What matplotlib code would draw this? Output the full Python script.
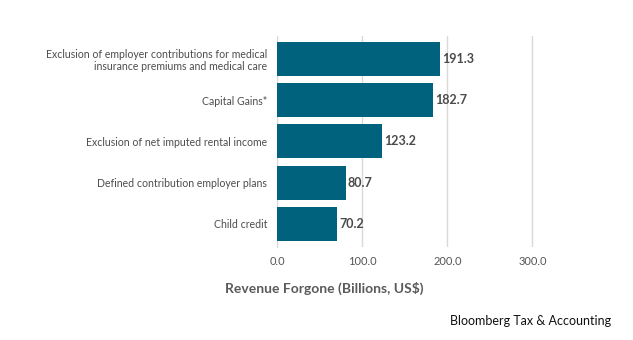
import matplotlib
matplotlib.use("Agg")
import matplotlib.pyplot as plt

plt.rcParams['font.family'] = ['Lato', 'DejaVu Sans']

categories = [
    "Exclusion of employer contributions for medical\ninsurance premiums and medical care",
    "Capital Gains*",
    "Exclusion of net imputed rental income",
    "Defined contribution employer plans",
    "Child credit",
]
values = [191.3, 182.7, 123.2, 80.7, 70.2]
xticks = [0, 100, 200, 300]
xtick_labels = ["0.0", "100.0", "200.0", "300.0"]

W, H = 633, 340
fig = plt.figure(figsize=(W / 100, H / 100), dpi=100)
top_px, bot_px = 36.2, 246.6
ax = fig.add_axes([277 / W, 1 - bot_px / H, 298 / W, (bot_px - top_px) / H])

ypos = list(range(len(categories)))[::-1]
ax.barh(ypos, values, height=0.82, color="#00627c", zorder=3)
for y, v in zip(ypos, values):
    ax.text(v + 2.5, y, f"{v:.1f}", va="center", ha="left", fontsize=9,
            fontweight="bold", color="#4a4a4a")

ax.set_xlim(0, 350)
ax.set_ylim(-0.55, 4.55)
ax.set_yticks(ypos)
ax.set_yticklabels(categories, fontsize=7.6, color="#4d4d4d", linespacing=1.15)
ax.set_xticks(xticks)
ax.set_xticklabels(xtick_labels, fontsize=8, color="#555555")
ax.tick_params(axis='both', length=0)
ax.tick_params(axis='y', pad=7)
ax.tick_params(axis='x', pad=7)
ax.grid(axis='x', color="#d9d9d9", linewidth=1, zorder=0)
for s in ["top", "right", "bottom"]:
    ax.spines[s].set_visible(False)
ax.spines["left"].set_color("#d9d9d9")

fig.text(324 / W, 1 - 288 / H, "Revenue Forgone (Billions, US$)", ha="center",
         va="center", fontsize=10, fontweight="bold", color="#5a5a5a")
fig.text(611 / W, 1 - 321 / H, "Bloomberg Tax & Accounting", ha="right",
         va="center", fontsize=9, color="#111111")

fig.savefig("out.png", dpi=100, facecolor="white")
